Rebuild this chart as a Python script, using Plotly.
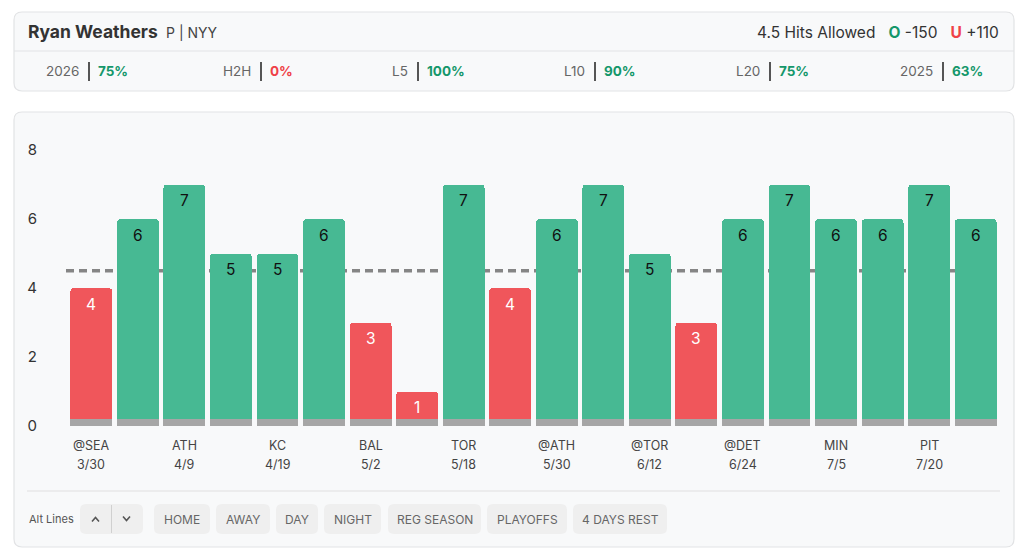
import plotly.graph_objects as go

# ---------------- data ----------------
hits = [4, 6, 7, 5, 5, 6, 3, 1, 7, 4, 6, 7, 5, 3, 6, 7, 6, 6, 7, 6]
line_value = 4.5
tick_opponents = ["@SEA", "ATH", "KC", "BAL", "TOR", "@ATH", "@TOR", "@DET", "MIN", "PIT"]
tick_dates = ["3/30", "4/9", "4/19", "5/2", "5/18", "5/30", "6/12", "6/24", "7/5", "7/20"]
y_ticks = [0, 2, 4, 6, 8]

player_name = "Ryan Weathers"
player_meta = "P | NYY"
prop_label = "4.5 Hits Allowed"
over_odds = "-150"
under_odds = "+110"
stat_labels = ["2026", "H2H", "L5", "L10", "L20", "2025"]
stat_values = [75, 0, 100, 90, 75, 63]
filter_buttons = ["HOME", "AWAY", "DAY", "NIGHT", "REG SEASON", "PLAYOFFS", "4 DAYS REST"]

# ---------------- style ----------------
FONT = "Inter"
GREEN = "#47b993"
RED = "#f0565b"
GREEN_TXT = "#14976a"
RED_TXT = "#ef4147"
BASE_GRAY = "#a6a6a6"
CARD_BG = "#f8f9fa"
CARD_BORDER = "#e2e3e5"
BTN_BG = "#efefef"

W, H = 1024, 560
ML, MR, MT, MB = 68, 25, 150, 134
PW = W - ML - MR
PH = H - MT - MB


def px(x):
    return (x - ML) / PW


def py(y):
    return (H - MB - y) / PH


def rrect(x0, y0, x1, y1, r):
    pts = [
        ("M", [(x0 + r, y0)]),
        ("L", [(x1 - r, y0)]),
        ("Q", [(x1, y0), (x1, y0 + r)]),
        ("L", [(x1, y1 - r)]),
        ("Q", [(x1, y1), (x1 - r, y1)]),
        ("L", [(x0 + r, y1)]),
        ("Q", [(x0, y1), (x0, y1 - r)]),
        ("L", [(x0, y0 + r)]),
        ("Q", [(x0, y0), (x0 + r, y0)]),
    ]
    s = ""
    for cmd, ps in pts:
        s += cmd + " " + " ".join(f"{px(a):.5f},{py(b):.5f}" for a, b in ps) + " "
    return s + "Z"


BASE = 0.2
n = len(hits)
xs = list(range(n))
colors = [GREEN if v > line_value else RED for v in hits]

fig = go.Figure()
fig.add_trace(go.Bar(x=xs, y=[BASE] * n, marker=dict(color=BASE_GRAY, line=dict(width=0)),
                     hoverinfo="skip", showlegend=False))
fig.add_trace(go.Bar(x=xs, y=[v - BASE for v in hits], marker=dict(color=colors, line=dict(width=0)),
                     hoverinfo="skip", showlegend=False))

shapes = []
annotations = []

# cards
shapes.append(dict(type="path", xref="paper", yref="paper", path=rrect(14, 12, 1014, 91, 8),
                   fillcolor=CARD_BG, line=dict(color=CARD_BORDER, width=1.2), layer="below"))
shapes.append(dict(type="line", xref="paper", yref="paper", x0=px(14), x1=px(1014), y0=py(51), y1=py(51),
                   line=dict(color=CARD_BORDER, width=1.2), layer="below"))
shapes.append(dict(type="path", xref="paper", yref="paper", path=rrect(14, 112, 1014, 547, 8),
                   fillcolor=CARD_BG, line=dict(color=CARD_BORDER, width=1.2), layer="below"))
shapes.append(dict(type="line", xref="paper", yref="paper", x0=px(27), x1=px(1000), y0=py(491), y1=py(491),
                   line=dict(color="#e0e0e0", width=1.2), layer="below"))

# dashed line
shapes.append(dict(type="line", xref="paper", yref="y", x0=px(66), x1=px(1000), y0=line_value, y1=line_value,
                   line=dict(color="#858585", width=3.5, dash="8px,5px"), layer="below"))

# header text
annotations.append(dict(xref="paper", yref="paper", x=px(26), y=py(31), xanchor="left", yanchor="middle",
                        showarrow=False, text=f"<b>{player_name}</b>",
                        font=dict(family=FONT, size=17.5, color="#333333")))
annotations.append(dict(xref="paper", yref="paper", x=px(164), y=py(32), xanchor="left", yanchor="middle",
                        showarrow=False, text=player_meta, font=dict(family=FONT, size=14, color="#444444")))
annotations.append(dict(xref="paper", yref="paper", x=px(1001), y=py(32), xanchor="right", yanchor="middle",
                        showarrow=False,
                        text=(f"{prop_label}&nbsp;&nbsp; <span style='color:{GREEN_TXT}'><b>O</b></span> {over_odds}"
                              f"&nbsp;&nbsp; <span style='color:{RED_TXT}'><b>U</b></span> {under_odds}"),
                        font=dict(family=FONT, size=15.5, color="#333333")))

# stats row
bar_positions = [89, 261, 418, 595, 770, 943]
for lab, val, bx in zip(stat_labels, stat_values, bar_positions):
    c = GREEN_TXT if val >= 50 else RED_TXT
    annotations.append(dict(xref="paper", yref="paper", x=px(bx - 8), y=py(71), xanchor="right", yanchor="middle",
                            showarrow=False, text=lab, font=dict(family=FONT, size=13.5, color="#666666")))
    annotations.append(dict(xref="paper", yref="paper", x=px(bx + 7), y=py(71), xanchor="left", yanchor="middle",
                            showarrow=False, text=f"<b>{val}%</b>", font=dict(family=FONT, size=13.5, color=c)))
    shapes.append(dict(type="line", xref="paper", yref="paper", x0=px(bx), x1=px(bx), y0=py(62), y1=py(81),
                       line=dict(color="#555555", width=2)))

# bar value labels
for i, v in enumerate(hits):
    annotations.append(dict(x=i, y=v, xref="x", yref="y", yshift=-16, showarrow=False, text=str(v),
                            font=dict(family=FONT, size=15.5, color="#111111" if v > line_value else "#ffffff")))

# x labels (every other game)
for k, (o, d) in enumerate(zip(tick_opponents, tick_dates)):
    gi = 2 * k
    annotations.append(dict(x=gi, y=py(445), xref="x", yref="paper", showarrow=False, text=o,
                            xanchor="center", yanchor="middle", font=dict(family=FONT, size=12.5, color="#444444")))
    annotations.append(dict(x=gi, y=py(464), xref="x", yref="paper", showarrow=False, text=d,
                            xanchor="center", yanchor="middle", font=dict(family=FONT, size=12.5, color="#444444")))

# bottom controls
annotations.append(dict(xref="paper", yref="paper", x=px(27), y=py(519), xanchor="left", yanchor="middle",
                        showarrow=False, text="Alt Lines", font=dict(family=FONT, size=11, color="#555555")))
shapes.append(dict(type="path", xref="paper", yref="paper", path=rrect(80, 504, 143, 534, 6),
                   fillcolor=BTN_BG, line=dict(width=0), layer="below"))
shapes.append(dict(type="line", xref="paper", yref="paper", x0=px(111.5), x1=px(111.5), y0=py(505), y1=py(533),
                   line=dict(color="#d0d0d0", width=1)))
shapes.append(dict(type="path", xref="paper", yref="paper",
                   path=f"M {px(92):.5f},{py(521.5):.5f} L {px(95.5):.5f},{py(517.5):.5f} L {px(99):.5f},{py(521.5):.5f}",
                   line=dict(color="#555555", width=1.6)))
shapes.append(dict(type="path", xref="paper", yref="paper",
                   path=f"M {px(123):.5f},{py(516.5):.5f} L {px(126.5):.5f},{py(520.5):.5f} L {px(130):.5f},{py(516.5):.5f}",
                   line=dict(color="#555555", width=1.6)))

btn_edges = [(154, 210), (216, 270), (276, 318), (324, 381), (388, 481), (487, 567), (573, 667)]
for lab, (b0, b1) in zip(filter_buttons, btn_edges):
    shapes.append(dict(type="path", xref="paper", yref="paper", path=rrect(b0, 504, b1, 534, 6),
                       fillcolor=BTN_BG, line=dict(width=0), layer="below"))
    annotations.append(dict(xref="paper", yref="paper", x=px((b0 + b1) / 2), y=py(519), xanchor="center",
                            yanchor="middle", showarrow=False, text=lab,
                            font=dict(family=FONT, size=12, color="#666666")))

fig.update_layout(
    width=W, height=H,
    margin=dict(l=ML, r=MR, t=MT, b=MB, pad=0),
    paper_bgcolor="#ffffff",
    plot_bgcolor="rgba(0,0,0,0)",
    barmode="stack",
    bargap=0.1,
    barcornerradius=4,
    showlegend=False,
    shapes=shapes,
    annotations=annotations,
    font=dict(family=FONT),
    xaxis=dict(range=[-0.5, n - 0.5], showgrid=False, zeroline=False, showticklabels=False,
               showline=False, fixedrange=True),
    yaxis=dict(range=[0, 8], tickvals=y_ticks, showgrid=False, zeroline=False, showline=False,
               ticklabelstandoff=30, tickfont=dict(family=FONT, size=15, color="#333333"), fixedrange=True),
)

fig.write_html("out.html", config={"displayModeBar": False})
